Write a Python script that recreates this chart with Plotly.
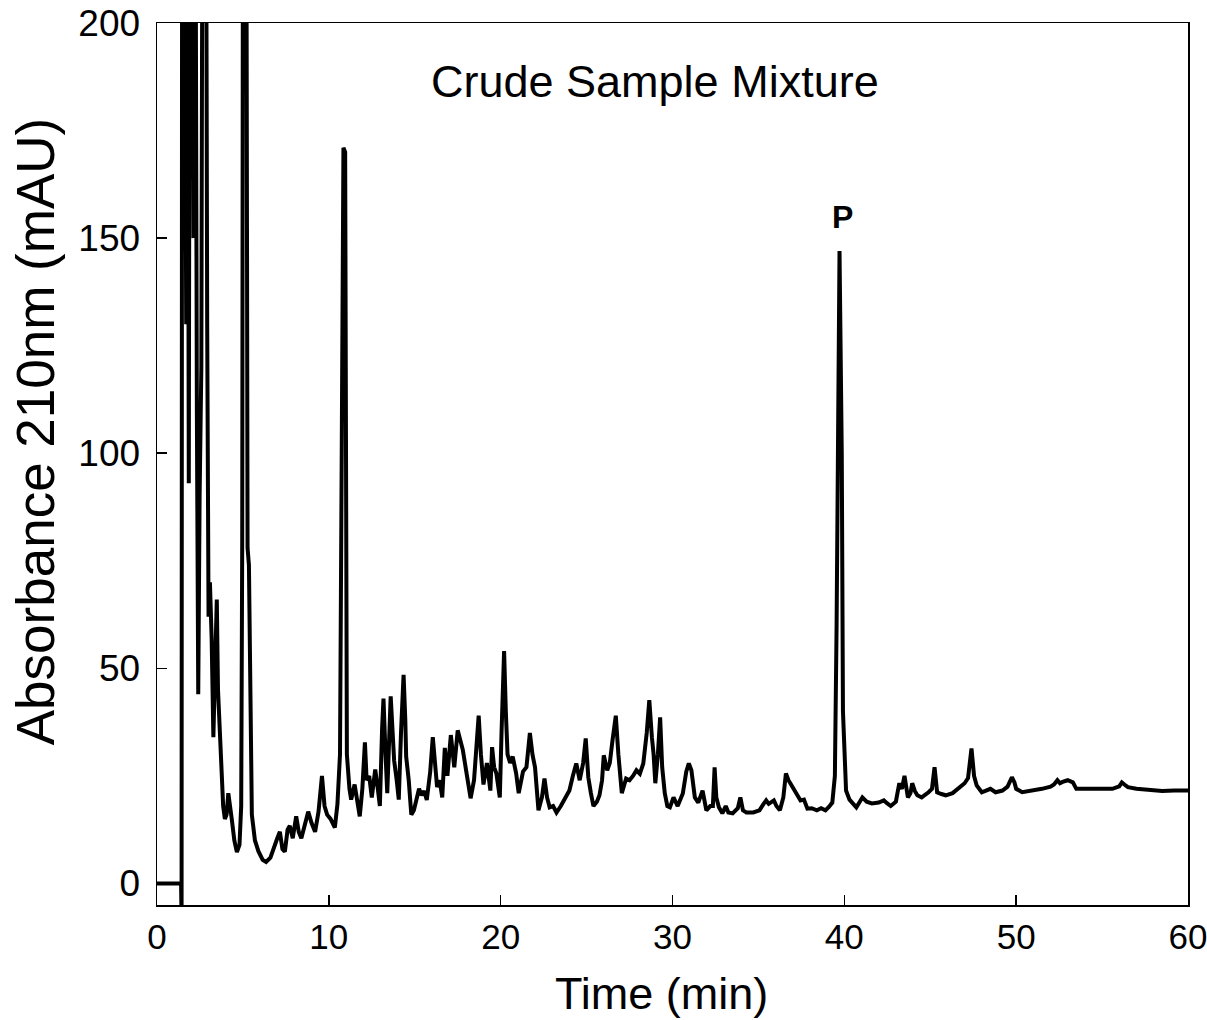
import plotly.graph_objects as go

# Chromatogram trace (time in min, absorbance in mAU)
time_min = [
    0, 1.40, 1.43, 1.47, 1.55, 1.62, 1.70, 1.76, 1.85, 1.93, 2.05, 2.12, 2.20, 2.32, 2.40, 2.48, 2.58, 2.68, 2.82,
    2.92, 3.00, 3.08, 3.18, 3.28, 3.38, 3.48, 3.55, 3.62, 3.75, 3.85, 3.95, 4.05, 4.15, 4.25, 4.35, 4.50, 4.65,
    4.80, 4.90, 4.96, 5.02, 5.17, 5.22, 5.27, 5.35, 5.42, 5.52, 5.70, 5.90, 6.15, 6.35, 6.6, 6.8, 7.0, 7.15,
    7.3, 7.44, 7.6, 7.73, 7.9, 8.1, 8.25, 8.4, 8.6, 8.8, 9.0, 9.2, 9.4, 9.6, 9.75, 9.9, 10.1, 10.35, 10.5,
    10.65, 10.75, 10.85, 10.95, 11.0, 11.05, 11.2, 11.3, 11.5, 11.65, 11.8, 11.95, 12.1, 12.2, 12.35, 12.5,
    12.7, 12.85, 12.97, 13.1, 13.18, 13.3, 13.4, 13.6, 13.72, 13.8, 13.95, 14.07, 14.2, 14.35, 14.45, 14.5,
    14.65, 14.8, 14.95, 15.1, 15.25, 15.4, 15.55, 15.7, 15.9, 16.05, 16.2, 16.3, 16.45, 16.6, 16.75, 16.9,
    17.1, 17.2, 17.3, 17.5, 17.65, 17.8, 18.0, 18.25, 18.45, 18.6, 18.72, 18.85, 19.0, 19.2, 19.4, 19.5,
    19.62, 19.75, 19.95, 20.05, 20.2, 20.3, 20.4, 20.55, 20.7, 20.9, 21.05, 21.3, 21.5, 21.7, 21.85, 22.0,
    22.2, 22.4, 22.55, 22.7, 22.85, 23.05, 23.25, 23.5, 23.7, 24.0, 24.2, 24.4, 24.6, 24.8, 24.95, 25.1,
    25.25, 25.4, 25.6, 25.75, 25.9, 26.0, 26.2, 26.35, 26.5, 26.7, 26.85, 26.95, 27.05, 27.3, 27.5, 27.7,
    27.9, 28.1, 28.3, 28.5, 28.65, 28.8, 28.9, 29.0, 29.15, 29.28, 29.4, 29.55, 29.7, 29.85, 30.06, 30.3,
    30.6, 30.8, 30.95, 31.1, 31.3, 31.5, 31.75, 31.97, 32.2, 32.35, 32.45, 32.55, 32.7, 32.9, 33.1, 33.25,
    33.5, 33.8, 33.95, 34.1, 34.3, 34.7, 35.06, 35.3, 35.45, 35.6, 35.75, 35.9, 36.05, 36.25, 36.45, 36.6,
    36.75, 36.9, 37.1, 37.3, 37.45, 37.65, 37.85, 38.1, 38.4, 38.65, 38.9, 39.1, 39.3, 39.45, 39.55, 39.72,
    39.85, 39.92, 40.0, 40.1, 40.3, 40.5, 40.7, 40.9, 41.05, 41.3, 41.6, 42.0, 42.3, 42.5, 42.7, 43.0, 43.2,
    43.35, 43.5, 43.7, 43.85, 43.95, 44.1, 44.25, 44.5, 44.9, 45.1, 45.25, 45.4, 45.65, 45.9, 46.3, 46.6,
    47.0, 47.2, 47.4, 47.55, 47.7, 48.0, 48.25, 48.5, 48.8, 49.2, 49.5, 49.75, 49.9, 50.0, 50.35, 50.9,
    51.5, 52.0, 52.2, 52.4, 52.55, 52.7, 53.0, 53.3, 53.5, 54.2, 55.0, 55.6, 56.0, 56.15, 56.3, 56.5, 57.0,
    57.6, 57.85, 58.5, 59.2, 60.0,
]
absorbance_mau = [
    0, 0, -8, 300, 300, 200, 130, 300, 93, 300, 260, 150, 300, 110, 44, 90, 120, 300, 300,
    130, 62, 70, 57, 34, 52, 66, 45, 38, 26, 18, 15, 16, 21, 17, 15, 10, 7.3,
    9, 18, 80, 300, 300, 120, 78, 74, 40, 16, 10, 7.5, 5.5, 5, 6, 8.5, 10.5, 12,
    8, 7.4, 12.5, 13.4, 10.5, 15.6, 12, 10.5, 14, 16.7, 14, 12, 16.7, 25, 18, 16, 15, 13, 18.4,
    30, 100, 171, 170, 60, 30, 22, 19.5, 23, 19, 15.6, 22, 32.8, 24, 25, 20,
    26.5, 22, 18, 36, 43, 30, 21, 43.5, 35, 28.6, 24, 19.5, 35, 48.5, 38, 29.5,
    24, 16, 17, 19.4, 22, 20.5, 21.5, 19.4, 26, 34, 28, 22.4, 24, 20, 31.5, 25,
    34.5, 30, 27, 35.6, 33, 31, 26, 19.8, 24, 32.5, 39, 30, 23, 28, 21.6, 31.7,
    27, 25.6, 20, 35, 54, 40, 30, 28, 29.5, 25.6, 21, 26, 27, 35, 30, 27,
    17, 20, 24.4, 20, 17.7, 18, 16.5, 18, 19.4, 21.6, 25, 27.9, 24, 28, 33.7, 24.7,
    21, 18, 19, 20.5, 24, 29.8, 26.3, 28, 33, 39, 30, 24, 21, 24.4, 24, 25,
    26.3, 25.5, 27.9, 35, 42.6, 34, 30, 23.3, 30, 38.6, 27, 21, 18, 17.7, 20, 18,
    20.9, 26, 27.9, 26.3, 20, 18.8, 21.6, 17, 18, 18, 27, 20, 17.7, 16.3, 18, 16.5,
    16.3, 17.5, 20, 17, 16.5, 16.5, 17, 18.5, 19.3, 18.5, 19, 19.3, 18, 17, 20, 25.6,
    24, 23, 21.6, 20.5, 19.3, 19.5, 17.4, 17.5, 17, 17.5, 17, 17.8, 18.8, 25, 60, 147,
    100, 40, 30, 21.6, 19.5, 18.5, 17.7, 19, 20, 19, 18.6, 18.8, 19.3, 18.6, 18, 19, 23.3,
    22, 25, 20, 21, 23.3, 21.5, 20.5, 20, 21.2, 22, 27, 21.2, 20.8, 20.5, 21, 22,
    23.3, 24.5, 31.4, 25, 22.8, 21.2, 21.6, 22, 21.2, 21.6, 22.5, 24.7, 23.5, 22, 21.2, 21.5,
    22, 22.5, 23, 24, 23.3, 23.6, 24, 23.5, 22, 22, 22, 22, 22.6, 23.5, 23, 22.4, 22,
    21.8, 21.6, 21.5, 21.6, 21.6,
]

x_ticks = [0, 10, 20, 30, 40, 50, 60]
y_ticks = [0, 50, 100, 150, 200]

chart_title = "Crude Sample Mixture"
peak_label = "P"
peak_label_pos = (39.9, 155)
x_title = "Time (min)"
y_title = "Absorbance 210nm (mAU)"

FONT = "Liberation Sans, Arial, Helvetica, sans-serif"

fig = go.Figure()
fig.add_trace(go.Scatter(
    x=time_min, y=absorbance_mau, mode="lines",
    line=dict(color="black", width=4), showlegend=False, hoverinfo="skip",
))

fig.add_annotation(
    x=29.0, y=186.5, xref="x", yref="y", text=chart_title, showarrow=False,
    font=dict(family=FONT, size=45, color="black"),
)
fig.add_annotation(
    x=peak_label_pos[0], y=peak_label_pos[1], xref="x", yref="y",
    text="<b>" + peak_label + "</b>", showarrow=False,
    font=dict(family=FONT, size=32, color="black"),
)
# axis titles placed as annotations to match the reference placement
fig.add_annotation(
    x=0.489, y=0, xref="paper", yref="paper", yshift=-88, text=x_title,
    xanchor="center", yanchor="middle",
    showarrow=False, font=dict(family=FONT, size=45, color="black"),
)
fig.add_annotation(
    x=0, y=0.536, xref="paper", yref="paper", xshift=-122, text=y_title,
    xanchor="center", yanchor="middle", borderpad=0,
    textangle=-90, showarrow=False, font=dict(family=FONT, size=53, color="black"),
)

fig.update_layout(
    width=1207, height=1020,
    margin=dict(l=157, r=19, t=23, b=115, autoexpand=False),
    paper_bgcolor="white", plot_bgcolor="white",
    font=dict(family=FONT, color="black"),
    xaxis=dict(
        range=[0, 60], tickvals=x_ticks, ticks="inside", ticklen=10, tickwidth=1.5,
        tickcolor="black", showline=True, linecolor="black", linewidth=1.5, mirror=True,
        showgrid=False, zeroline=False, tickfont=dict(size=35, family=FONT),
        automargin=False, ticklabeloverflow="allow",
    ),
    yaxis=dict(
        range=[-5, 200], tickvals=y_ticks, ticks="inside", ticklen=10, tickwidth=1.5,
        tickcolor="black", showline=True, linecolor="black", linewidth=1.5, mirror=True,
        showgrid=False, zeroline=False, tickfont=dict(size=37, family=FONT),
        ticklabelstandoff=8, automargin=False, ticklabeloverflow="allow",
    ),
)

# remove the page's default body margin so the figure fills the window exactly
fig.write_html(
    "out.html",
    config={"displayModeBar": False, "staticPlot": True},
    post_script="document.body.style.margin='0';document.body.style.overflow='hidden';",
)
